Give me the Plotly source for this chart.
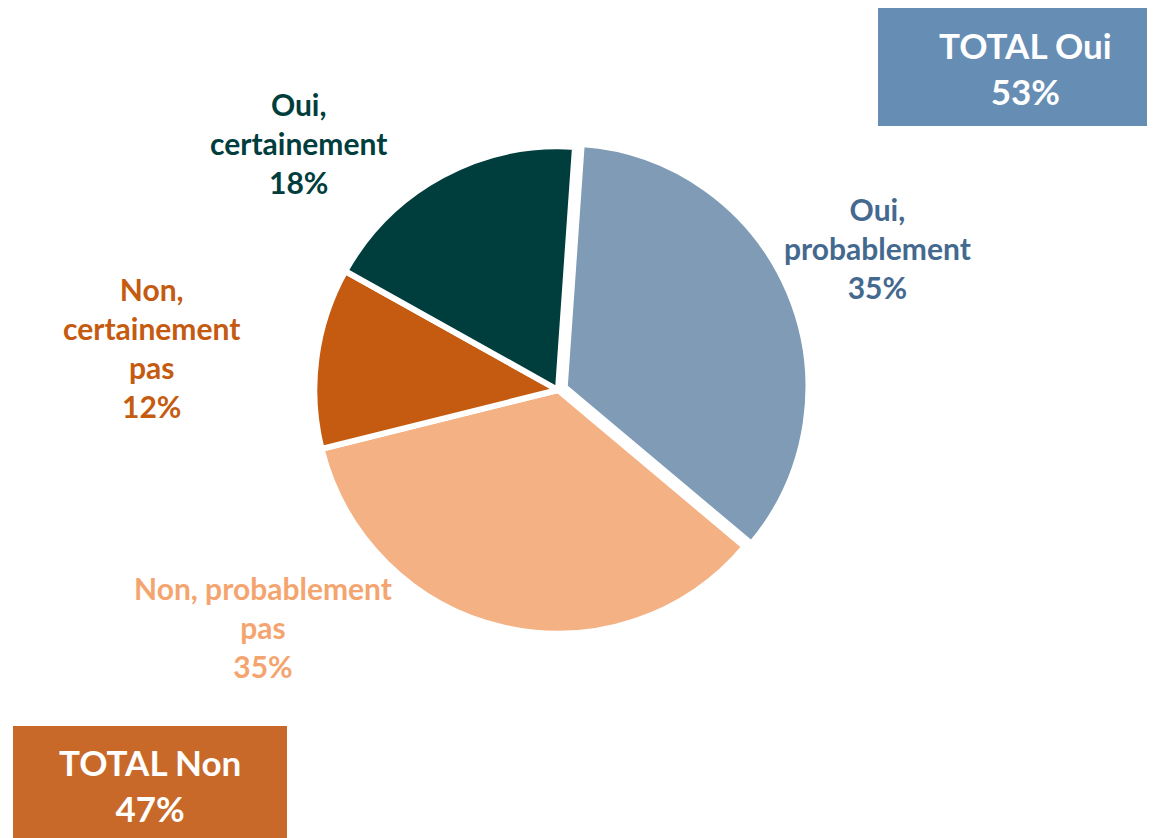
import plotly.graph_objects as go

W, H = 1155, 838
OFF = 8  # page body margin

categories = ["Oui, probablement", "Non, probablement pas", "Non, certainement pas", "Oui, certainement"]
values = [35, 35, 12, 18]
slice_colors = ["#7F9BB5", "#F4B183", "#C55A11", "#003D3D"]
pulls = [0.03, 0, 0, 0]

label_texts = ["Oui,<br>probablement<br>35%", "Non, probablement<br>pas<br>35%",
               "Non,<br>certainement<br>pas<br>12%", "Oui,<br>certainement<br>18%"]
label_colors = ["#44698F", "#F4A56F", "#C55A11", "#003D3D"]
label_px = [(877, 248), (263, 627), (151, 347), (298, 143)]

totals = ["TOTAL Oui<br>53%", "TOTAL Non<br>47%"]
total_colors = ["#668DB4", "#C8692A"]
total_boxes = [(878, 8, 1147, 126), (13, 726, 287, 846)]
total_text_px = [(1025, 68), (150, 785)]

cx, cy, r = 550, 382, 251


def px(x):
    return (x - OFF) / W


def py(y):
    return 1 - (y - OFF) / H


fig = go.Figure(go.Pie(
    labels=categories, values=values, sort=False, direction="clockwise",
    rotation=4, pull=pulls, textinfo="none", hoverinfo="label+percent",
    marker=dict(colors=slice_colors, line=dict(color="white", width=6)),
    domain=dict(x=[(cx - r) / W, (cx + r) / W], y=[(H - cy - r) / H, (H - cy + r) / H]),
    showlegend=False,
))

annotations = []
for t, c, (x, y) in zip(label_texts, label_colors, label_px):
    annotations.append(dict(text="<b>" + t + "</b>", x=px(x), y=py(y), xref="paper", yref="paper",
                            xanchor="center", yanchor="middle", showarrow=False,
                            font=dict(family="Lato", size=30, color=c)))

shapes = []
for t, c, (x0, y0, x1, y1), (tx, ty) in zip(totals, total_colors, total_boxes, total_text_px):
    shapes.append(dict(type="rect", xref="paper", yref="paper", x0=px(x0), x1=px(x1),
                       y0=max(py(y1), 0), y1=py(y0), fillcolor=c, line=dict(width=0), layer="below"))
    annotations.append(dict(text="<b>" + t + "</b>", x=px(tx), y=py(ty),
                            xref="paper", yref="paper", xanchor="center", yanchor="middle",
                            showarrow=False, font=dict(family="Lato", size=35, color="white")))

fig.update_layout(width=W, height=H, margin=dict(l=0, r=0, t=0, b=0),
                  paper_bgcolor="white", plot_bgcolor="white",
                  annotations=annotations, shapes=shapes)

fig.write_html("out.html")
